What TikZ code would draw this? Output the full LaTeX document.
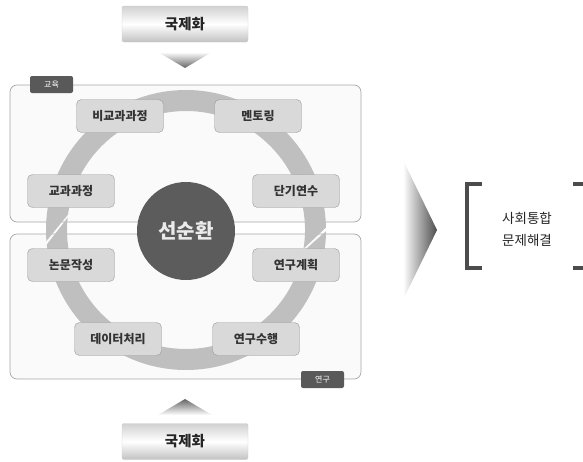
\documentclass[tikz,border=0pt]{standalone}
\usepackage{fontspec}
\setmainfont{Noto Sans CJK KR}
\usepackage{tikz}

\begin{document}
\begin{tikzpicture}[x=1pt,y=1pt,
  phase/.style={draw=black!40,fill=black!15,rounded corners=5pt,minimum width=87pt,minimum height=33pt,inner sep=0pt,font=\fontsize{12}{14}\selectfont\bfseries,text=black!80},
  tab/.style={fill=black!65,rounded corners=2pt,minimum width=43pt,minimum height=17pt,inner sep=0pt,font=\fontsize{8}{9}\selectfont,text=white},
  frame/.style={draw=black!35,fill=black!2,rounded corners=7pt,line width=0.7pt},
  intl/.style={draw=black!20,rounded corners=2pt,top color=black!18,bottom color=black!24,middle color=white,minimum width=126pt,minimum height=36pt,inner sep=0pt,font=\fontsize{14.5}{16}\selectfont\bfseries,text=black!85},
  ring/.style={fill=black!25}]
\useasboundingbox (0,0) rectangle (583,-461);
% internationalisation, top
\node [intl] (intltop) at (185,-24) {국제화};
\shade [top color=white,bottom color=black!60] (158,-52) -- (212,-52) -- (185,-68) -- cycle;
% the two areas
\draw [frame] (10,-85) rectangle (361,-222);
\draw [frame] (10,-234) rectangle (361,-379);
\node [tab] (edu) at (51.5,-84.5) {교육};
\node [tab] (res) at (322.5,-379.5) {연구};
% circular arrow
\begin{scope}[shift={(186,-230)}]
\fill [ring] (184.5:140) arc [start angle=184.5,end angle=1,radius=140] -- (-9:119) arc [start angle=-9,end angle=172.5,radius=119] -- cycle;
\fill [ring] (-0.5:140) arc [start angle=-0.5,end angle=-174,radius=140] -- (-186:119) arc [start angle=-186,end angle=-10.5,radius=119] -- cycle;
\end{scope}
\node [circle,fill=black!64,minimum size=98pt,inner sep=0pt,font=\fontsize{20}{22}\selectfont\bfseries,text=black!8] (core) at (186,-231) {선순환};
% steps
\node [phase] (noncur) at (120,-116) {비교과과정};
\node [phase] (mentor) at (258,-116) {멘토링};
\node [phase] (cur) at (71,-191) {교과과정};
\node [phase] (short) at (296,-191) {단기연수};
\node [phase] (paper) at (71,-265) {논문작성};
\node [phase] (plan) at (296,-265) {연구계획};
\node [phase] (data) at (118,-339) {데이터처리};
\node [phase] (exec) at (256,-339) {연구수행};
% internationalisation, bottom
\shade [top color=black!60,bottom color=white] (185,-399) -- (212,-415) -- (158,-415) -- cycle;
\node [intl] (intlbot) at (185,-441.5) {국제화};
% result
\shade [left color=white,right color=black!70] (403,-160) -- (437,-230) -- (403,-300) -- cycle;
\draw [line width=4pt,black!70] (482,-184) -- (467,-184) -- (467,-268) -- (482,-268);
\draw [line width=4pt,black!70] (573,-184) -- (587,-184) -- (587,-268) -- (573,-268);
\node [align=center,font=\fontsize{13.5}{22}\selectfont,text=black!85] (goal) at (527,-229) {사회통합\\문제해결};
\end{tikzpicture}
\end{document}
